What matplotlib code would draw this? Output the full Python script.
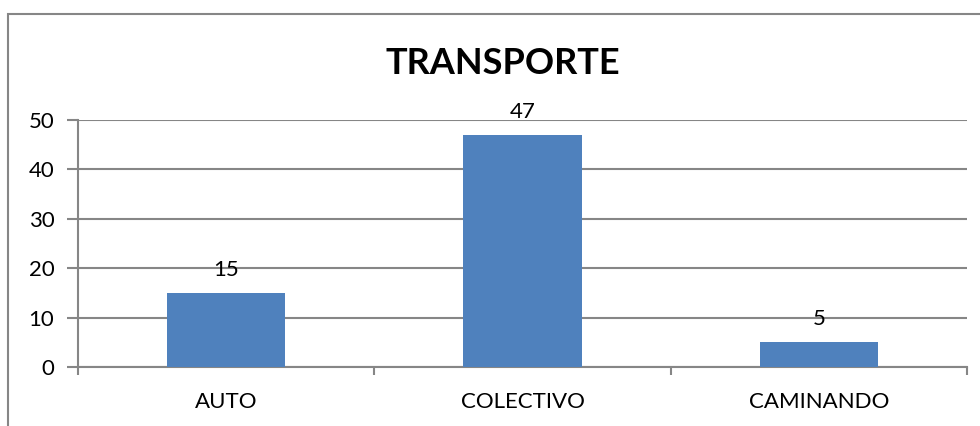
import matplotlib.pyplot as plt
import matplotlib.patches as patches

categories = ["AUTO", "COLECTIVO", "CAMINANDO"]
values = [15, 47, 5]
yticks = [0, 10, 20, 30, 40, 50]

plt.rcParams['font.family'] = ['Lato', 'DejaVu Sans']

fig = plt.figure(figsize=(9.8, 4.26), dpi=100)
ax = fig.add_axes([78 / 980, 59 / 426, 889 / 980, 247 / 426])

line_col = '#868686'
x = range(len(categories))
ax.bar(x, values, width=0.4, color='#4F81BD', zorder=3)
for xi, v in zip(x, values):
    ax.text(xi, v + 2.6, str(v), ha='center', va='bottom', fontsize=16)

ax.set_xlim(-0.5, len(categories) - 0.5)
ax.set_ylim(0, 50)
ax.set_yticks(yticks)
ax.set_yticklabels([str(t) for t in yticks], fontsize=16)
ax.set_xticks(list(x))
ax.set_xticklabels(categories, fontsize=16)
ax.tick_params(axis='x', length=0, pad=18)
ax.tick_params(axis='y', length=8, color=line_col, width=1.5, pad=9)
# category boundary ticks
ax.set_xticks([-0.5, 0.5, 1.5, 2.5], minor=True)
ax.tick_params(axis='x', which='minor', length=6, color=line_col, width=1.5)

ax.grid(axis='y', color=line_col, linewidth=1.5, zorder=0)
for s in ['top', 'right']:
    ax.spines[s].set_visible(False)
for s in ['left', 'bottom']:
    ax.spines[s].set_color(line_col)
    ax.spines[s].set_linewidth(1.5)

fig.text(503 / 980, 1 - 63 / 426, "TRANSPORTE", ha='center', va='center',
         fontsize=26, fontweight='bold')

border = patches.Rectangle((8 / 980, -0.1), 1.1, 0.1 + (426 - 14) / 426,
                           transform=fig.transFigure, fill=False,
                           edgecolor=line_col, linewidth=1.5)
fig.patches.append(border)

fig.savefig('out.png', dpi=100)
